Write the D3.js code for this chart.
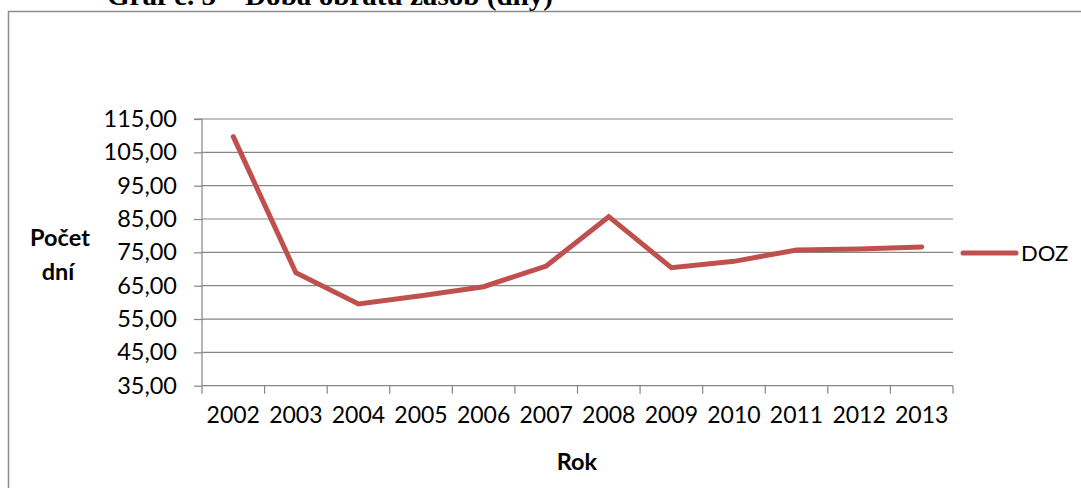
<!DOCTYPE html>
<html>
<head>
<meta charset="utf-8">
<script src="https://cdn.jsdelivr.net/npm/d3@7"></script>
<style>
  html, body { margin: 0; padding: 0; background: #fff; }
  svg { display: block; }
</style>
</head>
<body>
<svg id="chart" width="1081" height="488"></svg>
<script>
// Doba obratu zásob (DOZ), počet dní podle roku
const years = ["2002","2003","2004","2005","2006","2007","2008","2009","2010","2011","2012","2013"];
const dozValues = [109.7, 68.9, 59.5, 62.0, 64.7, 70.9, 85.7, 70.4, 72.3, 75.7, 76.0, 76.6];
const yTicks = [35, 45, 55, 65, 75, 85, 95, 105, 115];
const seriesName = "DOZ";

(function () {
  const svg = d3.select("#chart");
  const font = "Lato, 'Open Sans', sans-serif";
  const red = "#C0504D";
  const grid = "#868686";

  // Caption above the chart frame (partly cut off at the top edge)
  svg.append("text")
    .attr("x", 107).attr("y", 5)
    .attr("font-family", "'Liberation Serif', 'Times New Roman', serif")
    .attr("font-weight", "bold")
    .attr("font-size", 28)
    .attr("textLength", 446)
    .attr("lengthAdjust", "spacingAndGlyphs")
    .text("Graf č. 5 – Doba obratu zásob (dny)");

  // Chart frame
  svg.append("rect")
    .attr("x", 8.5).attr("y", 11.5)
    .attr("width", 1100).attr("height", 500)
    .attr("fill", "none")
    .attr("stroke", "#8c8c8c")
    .attr("stroke-width", 1.5);

  const plotLeft = 202, plotRight = 953, plotTop = 119, plotBottom = 385.7;

  const x = d3.scaleBand().domain(years).range([plotLeft, plotRight]);
  const y = d3.scaleLinear().domain([35, 115]).range([plotBottom, plotTop]);

  // Horizontal gridlines
  svg.append("g")
    .selectAll("line")
    .data(yTicks.filter(d => d !== 35))
    .join("line")
    .attr("x1", plotLeft).attr("x2", plotRight)
    .attr("y1", d => y(d)).attr("y2", d => y(d))
    .attr("stroke", grid).attr("stroke-width", 1.2);

  // Y axis
  const yAxis = svg.append("g")
    .attr("transform", `translate(${plotLeft},0)`)
    .call(d3.axisLeft(y).tickValues(yTicks).tickSize(8).tickPadding(17)
      .tickFormat(d => d3.format(".2f")(d).replace(".", ",")));
  yAxis.select(".domain").attr("stroke", grid).attr("stroke-width", 1.2)
    .attr("d", `M-8,${plotTop}H0V${plotBottom}`);
  yAxis.selectAll(".tick line").attr("stroke", grid).attr("stroke-width", 1.2);
  yAxis.selectAll(".tick text")
    .attr("font-family", font).attr("font-size", 23.5).attr("fill", "#000");

  // X axis: ticks at category boundaries, labels centred in each band
  const xAxis = svg.append("g")
    .attr("transform", `translate(0,${plotBottom})`);
  xAxis.append("line")
    .attr("x1", plotLeft).attr("x2", plotRight).attr("y1", 0).attr("y2", 0)
    .attr("stroke", grid).attr("stroke-width", 1.2);
  xAxis.selectAll("line.tk")
    .data(years.map(d => x(d)).concat([plotRight]))
    .join("line").attr("class", "tk")
    .attr("x1", d => d).attr("x2", d => d)
    .attr("y1", 0).attr("y2", 8)
    .attr("stroke", grid).attr("stroke-width", 1.2);
  xAxis.selectAll("text")
    .data(years)
    .join("text")
    .attr("x", d => x(d) + x.bandwidth() / 2)
    .attr("y", 37.5)
    .attr("text-anchor", "middle")
    .attr("font-family", font).attr("font-size", 23)
    .text(d => d);

  // Axis titles
  svg.append("text")
    .attr("x", 60).attr("y", 246)
    .attr("text-anchor", "middle")
    .attr("font-family", font).attr("font-weight", "bold").attr("font-size", 23.5)
    .text("Počet");
  svg.append("text")
    .attr("x", 58).attr("y", 280)
    .attr("text-anchor", "middle")
    .attr("font-family", font).attr("font-weight", "bold").attr("font-size", 23.5)
    .text("dní");
  svg.append("text")
    .attr("x", 577).attr("y", 470)
    .attr("text-anchor", "middle")
    .attr("font-family", font).attr("font-weight", "bold").attr("font-size", 23.5)
    .text("Rok");

  // Series line
  const line = d3.line()
    .x((d, i) => x(years[i]) + x.bandwidth() / 2)
    .y(d => y(d));
  svg.append("path")
    .datum(dozValues)
    .attr("d", line)
    .attr("fill", "none")
    .attr("stroke", red)
    .attr("stroke-width", 5)
    .attr("stroke-linecap", "round")
    .attr("stroke-linejoin", "miter");

  // Legend
  svg.append("line")
    .attr("x1", 963).attr("x2", 1016).attr("y1", 253).attr("y2", 253)
    .attr("stroke", red).attr("stroke-width", 5).attr("stroke-linecap", "round");
  svg.append("text")
    .attr("x", 1021).attr("y", 261)
    .attr("font-family", font).attr("font-size", 22)
    .text(seriesName);
})();
</script>
</body>
</html>
